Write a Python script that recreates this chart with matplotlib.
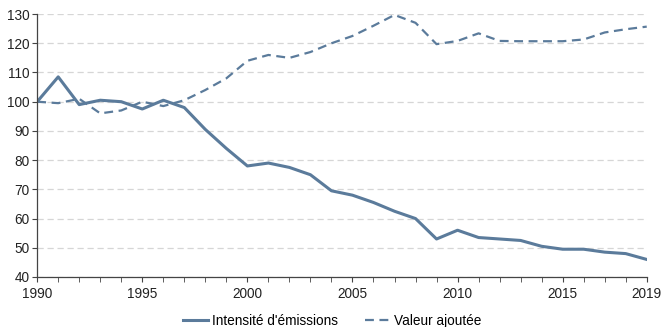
import matplotlib.pyplot as plt
import matplotlib.ticker as mticker

plt.rcParams['font.family'] = ['Liberation Sans', 'DejaVu Sans']

years = list(range(1990, 2020))
intensite = [100, 108.5, 99, 100.5, 100, 97.5, 100.5, 98, 90.5, 84,
             78, 79, 77.5, 75, 69.5, 68, 65.5, 62.5, 60, 53,
             56, 53.5, 53, 52.5, 50.5, 49.5, 49.5, 48.5, 48, 46]
valeur = [100, 99.5, 101, 96, 97, 100, 98.5, 100.5, 104, 108,
          114, 116, 115, 117, 120, 122.5, 126, 129.7, 127, 119.7,
          120.8, 123.4, 120.8, 120.7, 120.7, 120.7, 121.3, 123.7, 124.8, 125.7]
xticks = [1990, 1995, 2000, 2005, 2010, 2015, 2019]

col = '#5b7b9b'
fig = plt.figure(figsize=(6.64, 3.27), dpi=100)
ax = fig.add_axes([0.056, 0.153, 0.918, 0.804])

ax.plot(years, intensite, color=col, lw=2.2, label="Intensité d'émissions")
ax.plot(years, valeur, color=col, lw=1.6, ls=(0, (4, 2.5)), label='Valeur ajoutée')

ax.set_xlim(1990, 2019)
ax.set_ylim(40, 130)
ax.set_yticks(range(40, 131, 10))
ax.set_xticks(xticks)
ax.xaxis.set_minor_locator(mticker.MultipleLocator(1))
ax.yaxis.grid(True, ls=(0, (5, 3)), color='#d6d6d6', lw=0.9)
ax.set_axisbelow(True)
for s in ['top', 'right']:
    ax.spines[s].set_visible(False)
for s in ['left', 'bottom']:
    ax.spines[s].set_color('#444444')
    ax.spines[s].set_linewidth(0.9)
ax.tick_params(axis='both', which='both', color='#444444', labelsize=9.8, labelcolor='#222222')
ax.tick_params(axis='x', which='both', length=3.5, pad=4)
ax.tick_params(axis='y', length=3.5, pad=2)

fig.legend(loc='lower center', bbox_to_anchor=(0.5, -0.04), ncol=2, frameon=False,
           fontsize=9.8, handlelength=1.8, columnspacing=2.0, handletextpad=0.3)
fig.savefig('out.png', dpi=100)
